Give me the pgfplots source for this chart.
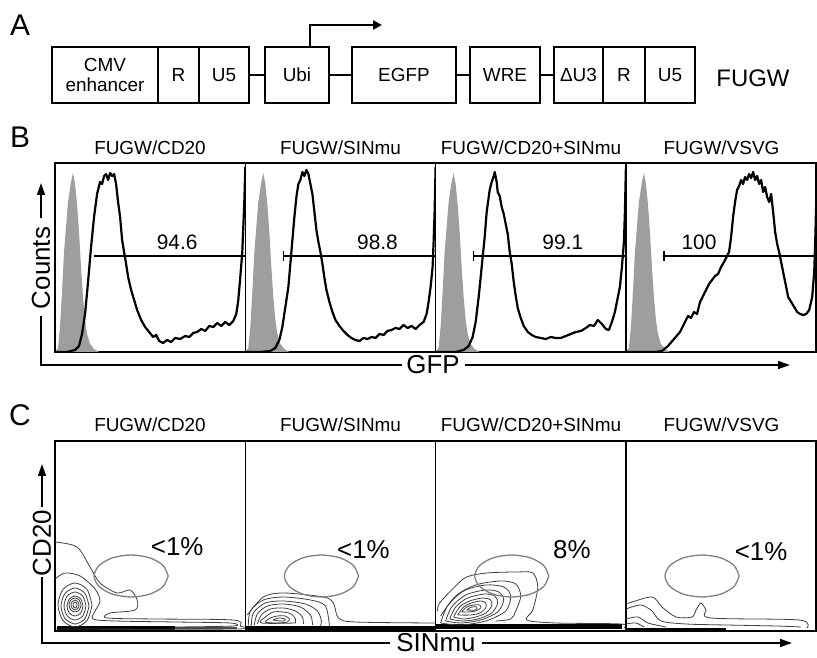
\documentclass[border=0pt]{standalone}
\usepackage{pgfplots}
\usepackage{pgfplotstable}
\pgfplotsset{compat=1.18}
\usepackage{fontspec}
\setmainfont{Liberation Sans}
\usetikzlibrary{arrows.meta}
\newcommand{\fs}[1]{\fontsize{#1}{#1}\selectfont}

% grey control peak, same in every histogram
\pgfplotstableread{
x y
0 0
3 4
5 25
7 60
9 100
11 125
13 150
16 170
18 179
20 168
22 148
24 120
26 85
28 55
30 32
32 18
35 8
39 3
44 0
}\graypeak

% CD20+/SINmu+ gate
\pgfplotstableread{
x y
113 55
108.0 65.5
94.5 73.2
76 76
57.5 73.2
44.0 65.5
39 55
44.0 44.5
57.5 36.8
76 34
94.5 36.8
108.0 44.5
113 55
}\gate

\pgfplotsset{
  panel/.style={scale only axis, width=190.3bp, xmin=0, xmax=190, ymin=0,
    ticks=none, axis line style={line width=1.6bp}, anchor=south west},
  hist/.style={panel, height=189bp, ymax=189},
  dens/.style={panel, height=190bp, ymax=190},
  curve/.style={black, line width=2.2bp, line join=round},
  bar/.style={black, line width=1.2bp},
  cont/.style={black!75, line width=0.8bp, smooth},
  gatel/.style={black!50, line width=1.3bp, smooth},
  band/.style={black, line width=4bp},
}

\begin{document}
\begin{tikzpicture}[x=1bp,y=1bp]
\path[use as bounding box] (0,0) rectangle (817,658);

% ---------- A: vector map ----------
\node[font=\fs{30}] at (20,633) {A};
\begin{scope}[line width=2.6bp]
  \draw (52,555) rectangle (158,611);
  \draw (158,555) rectangle (199,611);
  \draw (199,555) rectangle (249,611);
  \draw (265,555) rectangle (329,611);
  \draw (352,555) rectangle (456,611);
  \draw (470,555) rectangle (540,611);
  \draw (554,555) rectangle (603,611);
  \draw (603,555) rectangle (645,611);
  \draw (645,555) rectangle (695,611);
  \draw (249,583) -- (265,583);
  \draw (329,583) -- (352,583);
  \draw (456,583) -- (470,583);
  \draw (540,583) -- (554,583);
  \draw[-{Triangle[length=9bp,width=9bp]}] (310,611) -- (310,633) -- (382,633);
\end{scope}
\begin{scope}[font=\fs{19}]
  \node[align=center, font=\fontsize{19}{21}\selectfont] at (105,583) {CMV\\enhancer};
  \node at (178.5,583) {R};
  \node at (224,583) {U5};
  \node at (297,583) {Ubi};
  \node at (404,583) {EGFP};
  \node at (505,583) {WRE};
  \node at (578.5,583) {ΔU3};
  \node at (624,583) {R};
  \node at (670,583) {U5};
\end{scope}
\node[font=\fs{24}] at (753,580) {FUGW};

% ---------- B: GFP histograms ----------
\node[font=\fs{30}] at (20,521) {B};
\begin{scope}[font=\fs{19}]
  \node at (150,510) {FUGW/CD20};
  \node at (340.5,510) {FUGW/SINmu};
  \node at (531,510) {FUGW/CD20+SINmu};
  \node at (721.5,510) {FUGW/VSVG};
\end{scope}

\begin{axis}[hist, at={(55bp,306bp)}]
  \addplot[fill=black!38, draw=none] table {\graypeak} \closedcycle;
  \addplot[curve] coordinates {
    (0,0) (12,0) (20,2) (24,6) (27,18) (30,38) (33,70) (36,105) (39,135)
    (42,158) (45,170) (47,168) (49,176) (51,178) (53,172) (55,179) (57,176)
    (59,178) (61,168) (63,150) (65,135) (67,112) (69,100) (71,88) (73,75)
    (76,62) (79,52) (82,42) (86,32) (90,25) (94,20) (98,15) (101,17) (104,11)
    (108,9) (112,12) (116,10) (120,14) (125,13) (130,16) (134,15) (138,19)
    (142,20) (146,23) (150,21) (154,26) (158,25) (162,29) (166,26) (170,30)
    (174,27) (178,31) (181,38) (183,52) (185,75) (187,100) (188,125)
    (189,150) (190,185)};
  \addplot[bar] coordinates {(39,96) (190,96)};
  \node[font=\fs{21}] at (axis cs:122,110) {94.6};
\end{axis}

\begin{axis}[hist, at={(245.3bp,306bp)}]
  \addplot[fill=black!38, draw=none] table {\graypeak} \closedcycle;
  \addplot[curve] coordinates {
    (0,0) (15,0) (25,1) (30,4) (34,12) (37,25) (40,45) (43,65) (46,100)
    (49,135) (51,155) (53,168) (55,172) (57,180) (59,176) (61,182) (63,178)
    (65,168) (67,158) (69,140) (71,122) (73,110) (75,100) (77,88) (79,74)
    (81,62) (84,50) (87,40) (90,32) (94,26) (98,21) (102,17) (106,14)
    (110,12) (114,11) (118,14) (122,13) (126,15) (130,14) (134,18) (138,17)
    (142,21) (146,22) (150,24) (154,23) (158,27) (162,24) (166,26) (170,23)
    (174,27) (178,30) (181,38) (183,50) (185,65) (187,85) (188,110)
    (189,140) (190,185)};
  \addplot[bar] coordinates {(38,96) (190,96)};
  \addplot[bar] coordinates {(38,91) (38,101)};
  \node[font=\fs{21}] at (axis cs:132,110) {98.8};
\end{axis}

\begin{axis}[hist, at={(435.6bp,306bp)}]
  \addplot[fill=black!38, draw=none] table {\graypeak} \closedcycle;
  \addplot[curve] coordinates {
    (0,0) (20,0) (28,2) (33,6) (37,15) (40,30) (43,55) (46,85) (49,115)
    (51,140) (54,162) (56,170) (58,176) (59,180) (61,170) (62,160) (64,156)
    (66,145) (68,138) (70,128) (72,118) (74,100) (76,88) (78,70) (80,56)
    (82,44) (85,34) (88,26) (92,20) (96,17) (100,15) (105,14) (110,13)
    (115,15) (120,14) (125,14) (130,16) (135,18) (140,20) (145,21) (150,24)
    (154,27) (158,26) (162,32) (166,28) (170,23) (173,22) (176,30) (179,40)
    (182,55) (184,65) (186,85) (188,110) (189,140) (190,185)};
  \addplot[bar] coordinates {(38,96) (190,96)};
  \addplot[bar] coordinates {(38,91) (38,101)};
  \node[font=\fs{21}] at (axis cs:127,110) {99.1};
\end{axis}

\begin{axis}[hist, at={(625.9bp,306bp)}]
  \addplot[fill=black!38, draw=none] table {\graypeak} \closedcycle;
  \addplot[curve] coordinates {
    (0,0) (30,0) (36,1) (42,6) (48,13) (54,20) (58,28) (62,36) (65,34)
    (68,40) (71,38) (74,50) (77,56) (80,62) (83,68) (86,72) (89,76) (92,78)
    (95,85) (98,90) (101,96) (103,100) (105,115) (107,135) (109,150)
    (111,162) (113,166) (115,172) (117,168) (119,175) (121,172) (123,178)
    (125,174) (127,180) (129,172) (131,176) (133,168) (135,172) (137,160)
    (139,165) (141,155) (143,150) (145,158) (147,140) (149,120) (151,108)
    (153,100) (156,85) (159,70) (162,55) (165,50) (168,45) (171,40) (174,38)
    (177,37) (180,38) (183,42) (186,55) (188,80) (189,110) (190,150)};
  \addplot[bar] coordinates {(38,96) (190,96)};
  \addplot[bar] coordinates {(38,91) (38,101)};
  \node[font=\fs{21}] at (axis cs:73,110) {100};
\end{axis}

% axis arrows for B
\draw[line width=1.6bp] (41,342) -- (41,293) -- (402,293);
\draw[line width=1.6bp, -{Triangle[length=12bp,width=8bp]}] (465,293) -- (790,293);
\node[font=\fs{26}, inner sep=1bp] at (433,293) {GFP};
\node[font=\fs{26}, rotate=90, inner sep=1bp] at (41,390) {Counts};
\draw[line width=1.6bp, -{Triangle[length=12bp,width=8bp]}] (41,440) -- (41,475);

% ---------- C: CD20 vs SINmu contour plots ----------
\node[font=\fs{30}] at (20,243) {C};
\begin{scope}[font=\fs{19}]
  \node at (150,233) {FUGW/CD20};
  \node at (340.5,233) {FUGW/SINmu};
  \node at (531,233) {FUGW/CD20+SINmu};
  \node at (721.5,233) {FUGW/VSVG};
\end{scope}

\begin{axis}[dens, at={(55bp,27bp)}]
  \addplot[band] coordinates {(2,3) (120,3)};
  \addplot[black!70, line width=2bp] coordinates {(120,3) (182,3)};
  \addplot[cont] coordinates {(0,89) (22,84) (35,64) (45,48) (62,38) (75,41)
    (82,31) (80,21) (55,18) (52,13) (100,12) (178,11) (185,5) (180,2) (0,2)};
  \addplot[cont] coordinates {(0,52) (10,58) (25,55) (40,42) (45,30) (40,20)
    (38,12) (60,10) (120,9) (175,8) (178,5) (120,4)};
  \addplot[cont] coordinates {(37,26) (32,41.6) (20,48) (8,41.6) (3,26) (8,10.4) (20,4) (32,10.4) (37,26)};
  \addplot[cont] coordinates {(34,25) (29.9,37.7) (20,43) (10.1,37.7) (6,25) (10.1,12.3) (20,7) (29.9,12.3) (34,25)};
  \addplot[cont] coordinates {(31,25) (27.8,34.9) (20,39) (12.2,34.9) (9,25) (12.2,15.1) (20,11) (27.8,15.1) (31,25)};
  \addplot[cont] coordinates {(28,25) (25.7,32.1) (20,35) (14.3,32.1) (12,25) (14.3,17.9) (20,15) (25.7,17.9) (28,25)};
  \addplot[cont] coordinates {(26,26) (24.2,31) (20,33) (15.8,31) (14,26) (15.8,21) (20,19) (24.2,21) (26,26)};
  \addplot[cont] coordinates {(24,26) (22.8,29.5) (20,31) (17.2,29.5) (16,26) (17.2,22.5) (20,21) (22.8,22.5) (24,26)};
  \addplot[cont] coordinates {(22,26) (21.4,28.1) (20,29) (18.6,28.1) (18,26) (18.6,23.9) (20,23) (21.4,23.9) (22,26)};
  \addplot[gatel] table {\gate};
  \node[font=\fs{26}] at (axis cs:122,84) {<1\%};
\end{axis}

\begin{axis}[dens, at={(245.3bp,27bp)}]
  \addplot[band] coordinates {(0,3) (190,3)};
  \addplot[cont] coordinates {(2,16) (18,34) (38,38) (78,34) (88,28) (93,13)
    (110,9) (190,8)};
  \addplot[cont] coordinates {(84,5) (80,25) (65,31) (38,34) (18,31) (5,20) (3,5)};
  \addplot[cont] coordinates {(75,5) (76,10) (72,20) (60,27) (38,30) (20,28) (8,18) (6,5)};
  \addplot[cont] coordinates {(67,6) (67,8) (65,16) (55,24) (38,27) (22,25) (12,17) (9,6)};
  \addplot[cont] coordinates {(58,7) (57,14) (50,20) (38,23) (25,22) (16,16) (12,7)};
  \addplot[cont] coordinates {(50,8) (50,12) (46,17) (38,19) (28,19) (20,14) (16,8) (50,8)};
  \addplot[cont] coordinates {(44,12) (40,15) (32,15) (25,13) (20,9) (30,8) (42,9) (44,12)};
  \addplot[cont] coordinates {(40,12) (34,13) (28,11) (38,10) (40,12)};
  \addplot[gatel] table {\gate};
  \node[font=\fs{26}] at (axis cs:118,81) {<1\%};
\end{axis}

\begin{axis}[dens, at={(435.6bp,27bp)}]
  \addplot[black, line width=5bp] coordinates {(0,4) (186,4)};
  \addplot[cont] coordinates {(2,20) (4,28) (20,45) (31,54) (51,58) (81,59)
    (97,58) (102,44) (97,21) (91,11) (120,8) (185,7) (188,3)};
  \addplot[cont] coordinates {(5,15) (20,35) (40,46) (65,50) (80,47) (85,35)
    (80,20) (75,12) (60,10)};
  \addplot[cont] coordinates {(5,8) (12,25) (28,40) (50,46) (68,44) (75,35) (70,20) (50,10) (25,6) (5,8)};
  \addplot[cont] coordinates {(10,10) (16,24) (30,36) (50,41) (63,39) (68,31) (62,19) (45,11) (25,8) (10,10)};
  \addplot[cont] coordinates {(14,12) (20,24) (32,33) (49,37) (59,35) (62,28) (56,18) (42,12) (27,10) (14,12)};
  \addplot[cont] coordinates {(18,14) (24,24) (34,30) (47,33) (55,31) (56,25) (50,18) (40,14) (28,12) (18,14)};
  \addplot[cont] coordinates {(22,16) (28,24) (36,28) (45,30) (50,28) (50,23) (44,18) (35,16) (22,16)};
  \addplot[cont] coordinates {(26,19) (31,24) (38,26) (44,26) (45,23) (40,20) (32,19) (26,19)};
  \addplot[cont] coordinates {(31,21) (36,24) (41,24) (40,21) (31,21)};
  \addplot[gatel] table {\gate};
  \node[font=\fs{26}] at (axis cs:136,81) {8\%};
\end{axis}

\begin{axis}[dens, at={(625.9bp,27bp)}]
  \addplot[black, line width=2bp] coordinates {(0,2) (100,2)};
  \addplot[cont] coordinates {(0,28) (3,28) (26,34) (36,24) (50,14) (66,14)
    (70,21) (75,28) (80,21) (85,13) (173,11) (181,3)};
  \addplot[cont] coordinates {(0,22) (15,26) (26,20) (35,10) (60,7) (100,6)
    (150,5) (175,4)};
  \addplot[cont] coordinates {(0,12) (12,14) (22,8) (40,4)};
  \addplot[cont] coordinates {(0,7) (10,8) (18,4)};
  \addplot[gatel] table {\gate};
  \node[font=\fs{26}] at (axis cs:135,79) {<1\%};
\end{axis}

% axis arrows for C
\draw[line width=1.6bp] (42,81) -- (42,15) -- (390,15);
\draw[line width=1.6bp, -{Triangle[length=12bp,width=8bp]}] (482,15) -- (792,15);
\node[font=\fs{26}, inner sep=1bp] at (436,15) {SINmu};
\node[font=\fs{26}, rotate=90, inner sep=1bp] at (42,115) {CD20};
\draw[line width=1.6bp, -{Triangle[length=12bp,width=8bp]}] (42,151) -- (42,194);

\end{tikzpicture}
\end{document}
